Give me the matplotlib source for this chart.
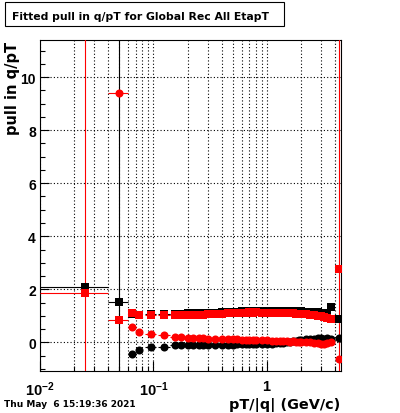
"""
Fitted pull in q/pT vs pT/|q| (ROOT-style canvas), recreated with matplotlib.
"""

import numpy as np
import matplotlib
matplotlib.use("Agg")
import matplotlib.pyplot as plt
from matplotlib.patches import Rectangle
from matplotlib.ticker import FixedLocator, MultipleLocator, NullFormatter

plt.rcParams['font.family'] = ['Liberation Sans', 'DejaVu Sans']
plt.rcParams['font.weight'] = 'bold'
plt.rcParams['mathtext.fontset'] = 'custom'
plt.rcParams['mathtext.rm'] = 'Liberation Sans:bold'
plt.rcParams['mathtext.bf'] = 'Liberation Sans:bold'
plt.rcParams['mathtext.it'] = 'Liberation Sans:bold'

# Bin centres in pT/|q| (GeV/c) and half widths
PT = [0.025, 0.05, 0.065, 0.075, 0.095, 0.125, 0.155, 0.175, 0.2, 0.225,
      0.25, 0.275, 0.3, 0.35, 0.4, 0.45, 0.5, 0.55, 0.6, 0.65,
      0.7, 0.75, 0.8, 0.9, 1.0, 1.1, 1.2, 1.3, 1.4, 1.5,
      1.6, 1.7, 1.8, 1.9, 2.0, 2.2, 2.4, 2.6, 2.8, 3.0,
      3.2, 3.4, 3.7, 4.3]
PT_HALF = [0.015, 0.01, 0.005, 0.005, 0.01, 0.015, 0.015, 0.0125, 0.0125, 0.0125,
           0.0125, 0.0125, 0.025, 0.025, 0.025, 0.025, 0.025, 0.025, 0.025, 0.025,
           0.025, 0.025, 0.05, 0.05, 0.05, 0.05, 0.05, 0.05, 0.05, 0.05,
           0.05, 0.05, 0.05, 0.05, 0.1, 0.1, 0.1, 0.1, 0.1, 0.1,
           0.1, 0.15, 0.15, 0.15]

# Fitted width of the pull (squares)
SIGMA_BLACK = [2.08, 1.52, 1.08, 1.05, 1.06, 1.07, 1.08, 1.08, 1.09, 1.09,
               1.10, 1.10, 1.11, 1.12, 1.13, 1.14, 1.15, 1.16, 1.17, 1.17,
               1.18, 1.18, 1.18, 1.19, 1.19, 1.19, 1.19, 1.18, 1.18, 1.18,
               1.18, 1.17, 1.17, 1.17, 1.17, 1.16, 1.16, 1.15, 1.14, 1.12,
               1.10, 1.12, 1.32, 0.88]
SIGMA_RED = [1.87, 0.86, 1.12, 1.05, 1.02, 1.02, 1.03, 1.03, 1.04, 1.04,
             1.05, 1.05, 1.06, 1.07, 1.08, 1.09, 1.10, 1.10, 1.11, 1.12,
             1.13, 1.12, 1.13, 1.12, 1.12, 1.11, 1.10, 1.11, 1.10, 1.09,
             1.10, 1.09, 1.08, 1.08, 1.07, 1.06, 1.05, 1.03, 1.00, 0.98,
             0.95, 0.92, 0.88, 2.77]

# Fitted mean of the pull (circles)
MEAN_BLACK = [np.nan, np.nan, -0.44, -0.27, -0.18, -0.16, -0.10, -0.10, -0.10, -0.11,
              -0.10, -0.10, -0.10, -0.10, -0.09, -0.09, -0.09, -0.08, -0.08, -0.08,
              -0.07, -0.07, -0.06, -0.06, -0.05, -0.05, -0.04, -0.03, -0.02, 0.00,
              0.02, 0.04, 0.06, 0.08, 0.10, 0.12, 0.13, 0.14, 0.15, 0.16,
              0.14, 0.16, 0.12, 0.15]
MEAN_RED = [np.nan, 9.40, 0.57, 0.38, 0.31, 0.27, 0.22, 0.20, 0.18, 0.17,
            0.16, 0.15, 0.14, 0.13, 0.12, 0.12, 0.11, 0.11, 0.10, 0.10,
            0.09, 0.08, 0.08, 0.07, 0.07, 0.06, 0.06, 0.05, 0.05, 0.04,
            0.03, 0.04, 0.02, 0.03, 0.02, 0.01, 0.00, -0.02, -0.04, -0.06,
            -0.05, -0.03, 0.00, -0.63]

# Vertical errors (huge ones run off the pad)
ERR_SMALL = [0.05, 0.05, 0.05, 0.04, 0.04, 0.03, 0.03, 0.03, 0.03, 0.03,
             0.03, 0.03, 0.03, 0.03, 0.03, 0.03, 0.03, 0.03, 0.03, 0.03,
             0.03, 0.03, 0.03, 0.03, 0.03, 0.03, 0.03, 0.03, 0.03, 0.03,
             0.04, 0.04, 0.04, 0.04, 0.04, 0.04, 0.05, 0.05, 0.05, 0.06,
             0.06, 0.07, 0.08, 0.10]
BIG_ERR_BLACK = {1: 40.0}
BIG_ERR_RED = {0: 40.0, 43: 40.0}

TEXT_FONT = ['DejaVu Sans']


def with_big(errs, big):
    out = list(errs)
    for i, v in big.items():
        out[i] = v
    return out


def main():
    fig = plt.figure(figsize=(4.0, 4.14), dpi=100)
    W, H = 400.0, 414.0
    ax = fig.add_axes([40 / W, 1 - 372 / H, 301 / W, 331 / H])

    x = np.array(PT)
    xerr = np.array(PT_HALF)
    common = dict(ls='none', elinewidth=0.8, capsize=0, markersize=5.8,
                  markeredgewidth=0, zorder=3)

    ax.errorbar(x, SIGMA_BLACK, yerr=with_big(ERR_SMALL, BIG_ERR_BLACK), xerr=xerr,
                fmt='s', color='black', **common)
    ax.errorbar(x, MEAN_BLACK, yerr=ERR_SMALL, xerr=xerr,
                fmt='o', color='black', **common)
    ax.errorbar(x, SIGMA_RED, yerr=with_big(ERR_SMALL, BIG_ERR_RED), xerr=xerr,
                fmt='s', color='red', **common)
    ax.errorbar(x, MEAN_RED, yerr=ERR_SMALL, xerr=xerr,
                fmt='o', color='red', **common)

    ax.set_xscale('log')
    ax.set_xlim(0.01, 4.5)
    ax.set_ylim(-1.08, 11.4)

    # ticks: ROOT style, inward, left/bottom only
    ax.xaxis.set_major_locator(FixedLocator([0.01, 0.1, 1]))
    ax.set_xticklabels([r'$10^{-2}$', r'$10^{-1}$', r'$1$'])
    minors = [m * d for d in (0.01, 0.1, 1) for m in range(2, 10) if m * d < 4.5]
    ax.xaxis.set_minor_locator(FixedLocator(minors))
    ax.xaxis.set_minor_formatter(NullFormatter())
    ax.yaxis.set_major_locator(FixedLocator([0, 2, 4, 6, 8, 10]))
    ax.yaxis.set_minor_locator(MultipleLocator(0.5))
    ax.tick_params(which='both', direction='in', top=False, right=False,
                   width=0.8, colors='black')
    ax.tick_params(axis='y', which='major', length=6.5, pad=3, labelsize=10)
    ax.tick_params(axis='y', which='minor', length=3.3)
    ax.tick_params(axis='x', which='major', length=7.5, pad=6, labelsize=10.5)
    ax.tick_params(axis='x', which='minor', length=3.6)

    # dotted grid, vertical lines at every log tick
    dots = (0, (1, 2))
    ax.grid(True, axis='x', which='both', color='black', linestyle=dots, linewidth=0.8)
    ax.grid(True, axis='y', which='major', color='black', linestyle=dots, linewidth=0.8)
    ax.set_axisbelow(True)
    for s in ax.spines.values():
        s.set_linewidth(0.8)

    # title box
    fig.patches.append(Rectangle((4.5 / W, 1 - 26.7 / H), 279.5 / W, 24 / H,
                                 transform=fig.transFigure, fill=True,
                                 facecolor='white', edgecolor='black', linewidth=0.8))
    fig.text(12 / W, 1 - 19.5 / H, 'Fitted pull in q/pT for Global Rec All EtapT',
             ha='left', va='baseline', fontsize=7.8, weight='bold', family=TEXT_FONT)

    fig.text(13 / W, 1 - 42 / H, 'pull in q/pT', rotation=90, ha='center',
             va='top', fontsize=10.5, weight='bold', family=TEXT_FONT)
    fig.text(340 / W, 1 - 405 / H, 'pT/|q| (GeV/c)', ha='right', va='center',
             fontsize=10.4, weight='bold', family=TEXT_FONT)
    fig.text(4 / W, 1 - 405 / H, 'Thu May  6 15:19:36 2021', ha='left',
             va='center', fontsize=6.5, weight='bold', family=TEXT_FONT)

    fig.savefig('out.png', dpi=100, facecolor='white')
    plt.close(fig)


if __name__ == "__main__":
    main()
